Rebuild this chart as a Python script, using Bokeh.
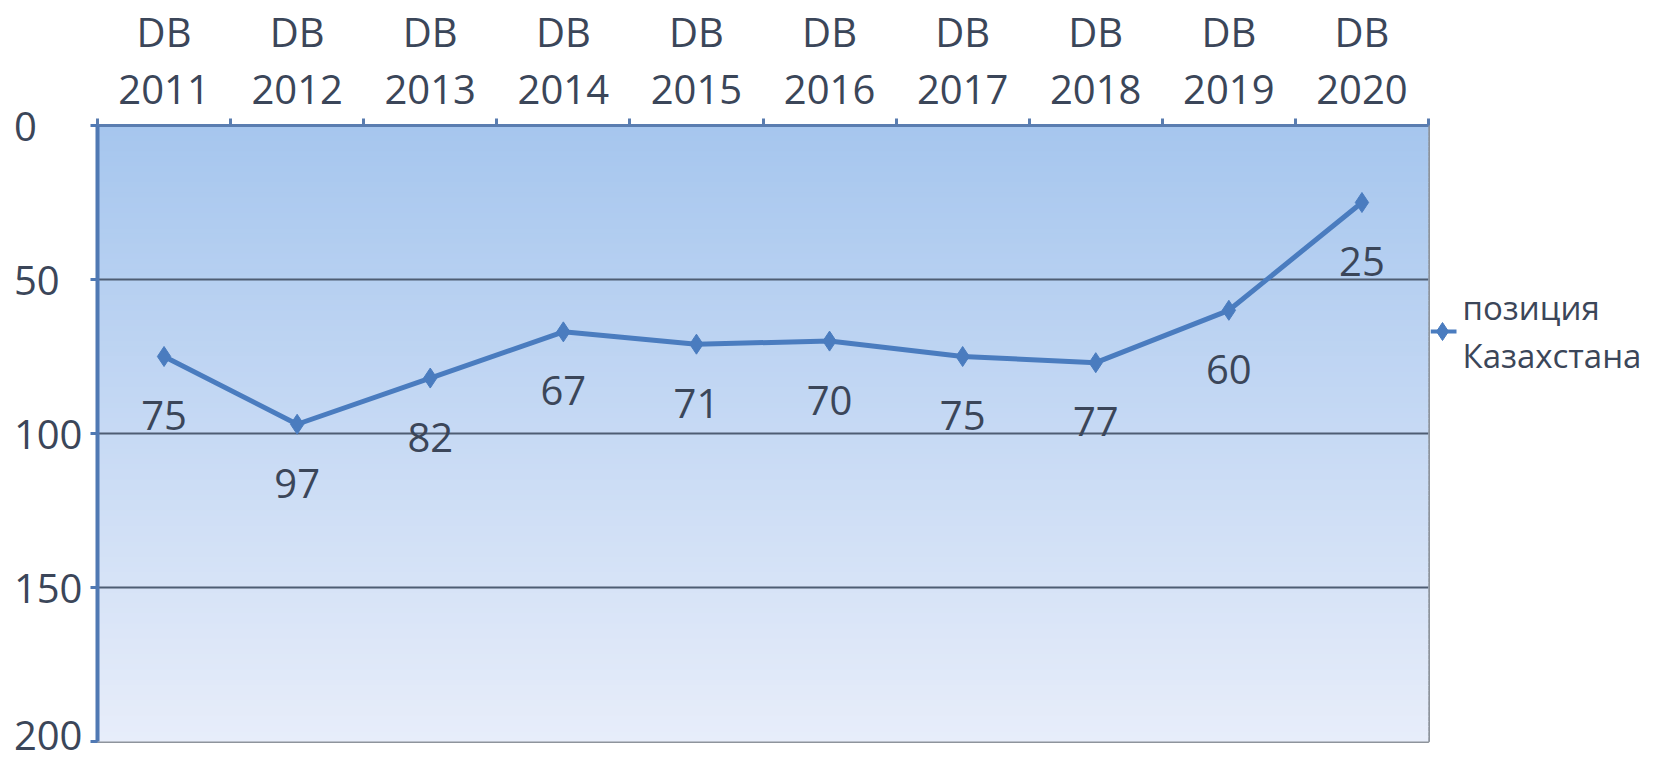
from bokeh.plotting import figure
from bokeh.layouts import row
from bokeh.models import (Range1d, FixedTicker, LinearAxis, CustomJSTickFormatter,
                          ColumnDataSource)
from bokeh.core.properties import value
from bokeh.embed import file_html
from bokeh.resources import INLINE

prefix = "DB"
years = ["2011", "2012", "2013", "2014", "2015", "2016", "2017", "2018", "2019", "2020"]
positions = [75, 97, 82, 67, 71, 70, 75, 77, 60, 25]
series_name = "позиция\nКазахстана"
y_ticks = [0, 50, 100, 150, 200]

FONT = "Open Sans"
TEXT = "#3b4659"
LINE = "#4a7cbf"

n = len(years)
xs = [i + 0.5 for i in range(n)]
cat_labels = [prefix + "\n" + y for y in years]

# layout constants (pixels)
BL, BR, BT, BB = 97, 2, 125, 20
FW, FH = 1331, 616
TOTAL_W, TOTAL_H = 1673, 761
MAIN_W = BL + FW + BR
LEG_W = TOTAL_W - MAIN_W

# ---------- main plot ----------
p = figure(width=MAIN_W, height=TOTAL_H, output_backend="svg", toolbar_location=None,
           x_range=Range1d(0, n), y_range=Range1d(200, 0),
           x_axis_location=None, y_axis_location=None,
           min_border_left=BL, min_border_right=BR, min_border_top=BT,
           min_border_bottom=BB)
p.background_fill_color = "white"
p.border_fill_color = "white"
p.outline_line_color = "#8e949c"
p.outline_line_width = 3

# vertical gradient of the plot area
steps = 120
top_c = (166, 198, 238)
bot_c = (231, 237, 250)
b_bottom, b_top, b_col = [], [], []
for k in range(steps):
    t = k / (steps - 1)
    c = tuple(int(round(top_c[j] + (bot_c[j] - top_c[j]) * t)) for j in range(3))
    b_top.append(200 * k / steps)
    b_bottom.append(200 * (k + 1) / steps + 0.3)
    b_col.append("#%02x%02x%02x" % c)
p.quad(left=0, right=n, top=b_top, bottom=b_bottom, fill_color=b_col,
       line_color=None, level="image")

top_axis = LinearAxis(ticker=FixedTicker(ticks=xs, minor_ticks=list(range(n + 1))),
                      formatter=CustomJSTickFormatter(args=dict(labels=cat_labels),
                                                      code="return labels[Math.floor(tick)];"))
top_axis.axis_line_color = "#5a7db0"
top_axis.axis_line_width = 3
top_axis.major_tick_out = 0
top_axis.major_tick_in = 0
top_axis.minor_tick_out = 7
top_axis.minor_tick_in = 0
top_axis.minor_tick_line_color = "#5a7db0"
top_axis.minor_tick_line_width = 3
top_axis.major_label_text_font = FONT
top_axis.major_label_text_font_size = "40px"
top_axis.major_label_text_color = TEXT
top_axis.major_label_text_line_height = 1.02
top_axis.major_label_standoff = 3
p.add_layout(top_axis, "above")

left_axis = LinearAxis(ticker=FixedTicker(ticks=y_ticks, minor_ticks=[]),
                       formatter=CustomJSTickFormatter(
                           code="const s = String(tick); return s + '\u2007'.repeat(3 - s.length);"))
left_axis.axis_line_color = "#5079b3"
left_axis.axis_line_width = 4
left_axis.major_tick_out = 7
left_axis.major_tick_in = 0
left_axis.major_tick_line_color = "#5079b3"
left_axis.major_tick_line_width = 3
left_axis.minor_tick_out = 0
left_axis.minor_tick_in = 0
left_axis.major_label_text_font = FONT
left_axis.major_label_text_font_size = "40px"
left_axis.major_label_text_color = TEXT
left_axis.major_label_standoff = 8
p.add_layout(left_axis, "left")

p.ygrid.ticker = FixedTicker(ticks=y_ticks)
p.ygrid.grid_line_color = "#4e5d73"
p.ygrid.grid_line_width = 2
p.xgrid.visible = False

src = ColumnDataSource(dict(x=xs, y=positions, lab=[str(v) for v in positions]))
ln = p.line("x", "y", source=src, line_color=LINE, line_width=5)
mk = p.scatter("x", "y", source=src, marker="diamond", size=20,
               fill_color=LINE, line_color=LINE)
p.text("x", "y", text="lab", source=src, y_offset=59, text_align="center",
       text_baseline="middle", text_font=value(FONT), text_font_size="40px",
       text_color=TEXT)

# ---------- legend panel (key drawn in its own frame-pixel space) ----------
lg = figure(width=LEG_W, height=TOTAL_H, output_backend="svg", toolbar_location=None,
            x_range=Range1d(0, LEG_W), y_range=Range1d(FH, 0),
            x_axis_location=None, y_axis_location=None,
            min_border_left=0, min_border_right=0, min_border_top=BT, min_border_bottom=BB)
lg.outline_line_color = None
lg.grid.visible = False
lg.background_fill_color = "white"
KEY_Y = 331 - BT
lg.line(x=[0, 26], y=[KEY_Y, KEY_Y], line_color=LINE, line_width=4)
lg.scatter(x=[12], y=[KEY_Y], marker="diamond", size=18, fill_color=LINE, line_color=LINE)
lg.text(x=[32], y=[KEY_Y], text=[series_name], text_align="left", text_baseline="middle",
        text_font=value(FONT), text_font_size="33px", text_color=TEXT,
        text_line_height=1.05)

layout = row(p, lg)
open("out.html", "w").write(file_html(layout, INLINE))
